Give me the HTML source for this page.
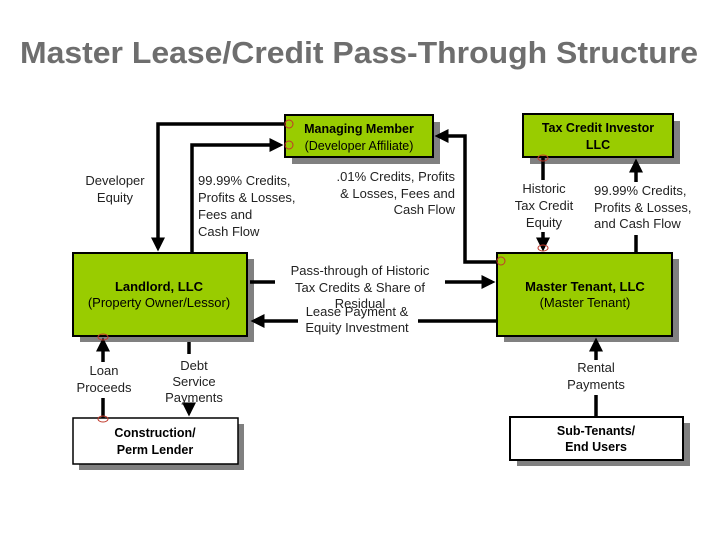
<!DOCTYPE html>
<html><head><meta charset="utf-8"><style>
html,body{margin:0;padding:0;background:#fff;}
svg{display:block;}
text{font-family:"Liberation Sans",Arial,sans-serif;}
</style></head><body>
<svg width="720" height="540" viewBox="0 0 720 540" xmlns="http://www.w3.org/2000/svg">
<defs>
<marker id="a" markerWidth="4" markerHeight="4" refX="3" refY="2" orient="auto" markerUnits="strokeWidth"><path d="M0,0 L4,2 L0,4 z" fill="#000"/></marker>
</defs>
<rect width="720" height="540" fill="#fff"/>
<text x="20" y="63" font-size="31" font-weight="bold" fill="#6e6e6e" textLength="678" lengthAdjust="spacingAndGlyphs">Master Lease/Credit Pass-Through Structure</text>

<!-- shadows -->
<g fill="#808080">
<rect x="292" y="122" width="148" height="42"/>
<rect x="530" y="121" width="150" height="43"/>
<rect x="80" y="259" width="174" height="83"/>
<rect x="504" y="259" width="175" height="83"/>
<rect x="517" y="423" width="173" height="43"/>
<rect x="79" y="424" width="165" height="46"/>
</g>
<!-- boxes -->
<g stroke="#000" stroke-width="2">
<rect x="285" y="115" width="148" height="42" fill="#99cc00"/>
<rect x="523" y="114" width="150" height="43" fill="#99cc00"/>
<rect x="73" y="253" width="174" height="83" fill="#99cc00"/>
<rect x="497" y="253" width="175" height="83" fill="#99cc00"/>
<rect x="510" y="417" width="173" height="43" fill="#fff"/>
<rect x="73" y="418" width="165" height="46" fill="#fff" stroke-width="1.5"/>
</g>

<!-- connectors -->
<g stroke="#000" stroke-width="3.5" fill="none">
<polyline points="285,124 158,124 158,248" marker-end="url(#a)"/>
<polyline points="192,253 192,145 280,145" marker-end="url(#a)"/>
<polyline points="497,262 465,262 465,136 438,136" marker-end="url(#a)"/>
<line x1="250" y1="282" x2="275" y2="282"/>
<line x1="445" y1="282" x2="492" y2="282" marker-end="url(#a)"/>
<line x1="497" y1="321" x2="418" y2="321"/>
<line x1="298" y1="321" x2="254" y2="321" marker-end="url(#a)"/>
<line x1="543" y1="157" x2="543" y2="180"/>
<line x1="543" y1="232" x2="543" y2="248" marker-end="url(#a)"/>
<line x1="636" y1="253" x2="636" y2="235"/>
<line x1="636" y1="182" x2="636" y2="162" marker-end="url(#a)"/>
<line x1="596" y1="417" x2="596" y2="395"/>
<line x1="596" y1="360" x2="596" y2="341" marker-end="url(#a)"/>
<line x1="103" y1="418" x2="103" y2="398"/>
<line x1="103" y1="362" x2="103" y2="341" marker-end="url(#a)"/>
<line x1="189" y1="342" x2="189" y2="354"/>
<line x1="189" y1="404" x2="189" y2="413" marker-end="url(#a)"/>
</g>
<!-- small connection circles -->
<g stroke="#c0392b" stroke-width="1" fill="none">
<circle cx="289" cy="124" r="4"/>
<circle cx="289" cy="145" r="4"/>
<ellipse cx="543" cy="158" rx="5" ry="3"/>
<ellipse cx="543" cy="248" rx="5" ry="3"/>
<circle cx="501" cy="261" r="4"/>
<ellipse cx="103" cy="337" rx="5" ry="3"/>
<ellipse cx="103" cy="419" rx="5" ry="3"/>
</g>

<!-- box labels -->
<g font-size="13" text-anchor="middle" fill="#000">
<text x="359" y="133" font-weight="bold" font-size="12.5">Managing Member</text>
<text x="359" y="150" font-size="12.5">(Developer Affiliate)</text>
<text x="598" y="132" font-weight="bold" font-size="12.5">Tax Credit Investor</text>
<text x="598" y="149" font-weight="bold" font-size="12.5">LLC</text>
<text x="159" y="291" font-weight="bold">Landlord, LLC</text>
<text x="159" y="307">(Property Owner/Lessor)</text>
<text x="585" y="291" font-weight="bold">Master Tenant, LLC</text>
<text x="585" y="307">(Master Tenant)</text>
<text x="596" y="435" font-weight="bold" font-size="12.5">Sub-Tenants/</text>
<text x="596" y="451" font-weight="bold" font-size="12.5">End Users</text>
<text x="155" y="437" font-weight="bold" font-size="12.5">Construction/</text>
<text x="155" y="454" font-weight="bold" font-size="12.5">Perm Lender</text>
</g>

<!-- connector labels -->
<g font-size="13" fill="#222">
<text x="115" y="185" text-anchor="middle">Developer</text>
<text x="115" y="202" text-anchor="middle">Equity</text>
<text x="198" y="185">99.99% Credits,</text>
<text x="198" y="202">Profits &amp; Losses,</text>
<text x="198" y="219">Fees and</text>
<text x="198" y="236">Cash Flow</text>
<text x="455" y="181" text-anchor="end">.01% Credits, Profits</text>
<text x="455" y="198" text-anchor="end">&amp; Losses, Fees and</text>
<text x="455" y="214" text-anchor="end">Cash Flow</text>
<text x="360" y="275" text-anchor="middle">Pass-through of Historic</text>
<text x="360" y="292" text-anchor="middle">Tax Credits &amp; Share of</text>
<text x="360" y="308" text-anchor="middle">Residual</text>
<text x="357" y="316" text-anchor="middle">Lease Payment &amp;</text>
<text x="357" y="332" text-anchor="middle">Equity Investment</text>
<text x="544" y="193" text-anchor="middle">Historic</text>
<text x="544" y="210" text-anchor="middle">Tax Credit</text>
<text x="544" y="227" text-anchor="middle">Equity</text>
<text x="594" y="195">99.99% Credits,</text>
<text x="594" y="212">Profits &amp; Losses,</text>
<text x="594" y="228">and Cash Flow</text>
<text x="596" y="372" text-anchor="middle">Rental</text>
<text x="596" y="389" text-anchor="middle">Payments</text>
<text x="104" y="375" text-anchor="middle">Loan</text>
<text x="104" y="392" text-anchor="middle">Proceeds</text>
<text x="194" y="370" text-anchor="middle">Debt</text>
<text x="194" y="386" text-anchor="middle">Service</text>
<text x="194" y="402" text-anchor="middle">Payments</text>
</g>
</svg>
</body></html>
